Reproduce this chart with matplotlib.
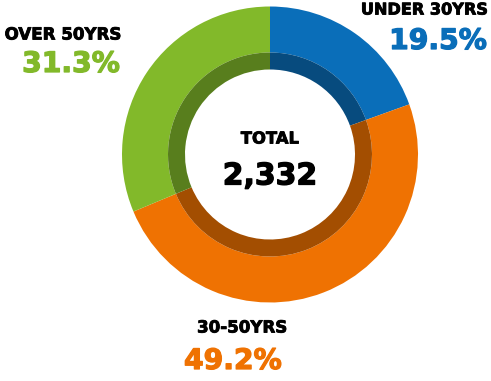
#!/usr/bin/env python3

import matplotlib
matplotlib.use('Agg')
import matplotlib.pyplot as plt
import matplotlib.colors as mcolors
import matplotlib.patheffects as pe

# age split of the workforce
labels = ['UNDER 30YRS', '30-50YRS', 'OVER 50YRS']
shares = [19.5, 49.2, 31.3]
total = 2332

COLORS = ['#0a6eb9', '#ef7202', '#82b92a']
W, H = 491, 381


def darker(c, f=0.68):
    r, g, b = mcolors.to_rgb(c)
    return (r * f, g * f, b * f)


def heavy(col, lw=0.9):
    # fatten the bold face a little
    return [pe.withStroke(linewidth=lw, foreground=col)]


fig = plt.figure(figsize=(W / 100, H / 100), dpi=100)
ax = fig.add_axes([0, 0, 1, 1])

cx, cy = 270, H - 154.5
# outer ring
ax.pie(shares, colors=COLORS, radius=148, center=(cx, cy), startangle=90,
       counterclock=False, wedgeprops=dict(width=46, linewidth=0), frame=True)
# darker inner band
ax.pie(shares, colors=[darker(c) for c in COLORS], radius=102, center=(cx, cy),
       startangle=90, counterclock=False, wedgeprops=dict(width=17, linewidth=0),
       frame=True)
ax.set_xlim(0, W)
ax.set_ylim(0, H)
ax.set_aspect('equal')
ax.axis('off')

font = dict(family='DejaVu Sans', fontweight='bold')

# centre total
ax.text(cx, H - 139, 'TOTAL', ha='center', va='center', fontsize=11.8,
        path_effects=heavy('black', 0.6), **font)
ax.text(cx, H - 176, f'{total:,}', ha='center', va='center', fontsize=21.5,
        path_effects=heavy('black'), **font)

# segment labels: (name x, name y, name size, pct x, pct y, ha)
spots = [
    (488, H - 10, 11.6, 487, H - 41, 'right'),
    (242, H - 327.5, 12, 233, H - 361, 'center'),
    (121, H - 34.5, 12, 120, H - 64, 'right'),
]
for name, pct, col, (nx, ny, ns, px, py, ha) in zip(labels, shares, COLORS, spots):
    ax.text(nx, ny, name, ha=ha, va='center', fontsize=ns, color='black',
            path_effects=heavy('black', 0.6), **font)
    ax.text(px, py, f'{pct}%', ha=ha, va='center', fontsize=20.3, color=col,
            path_effects=heavy(col), **font)

fig.savefig('out.png', dpi=100)
